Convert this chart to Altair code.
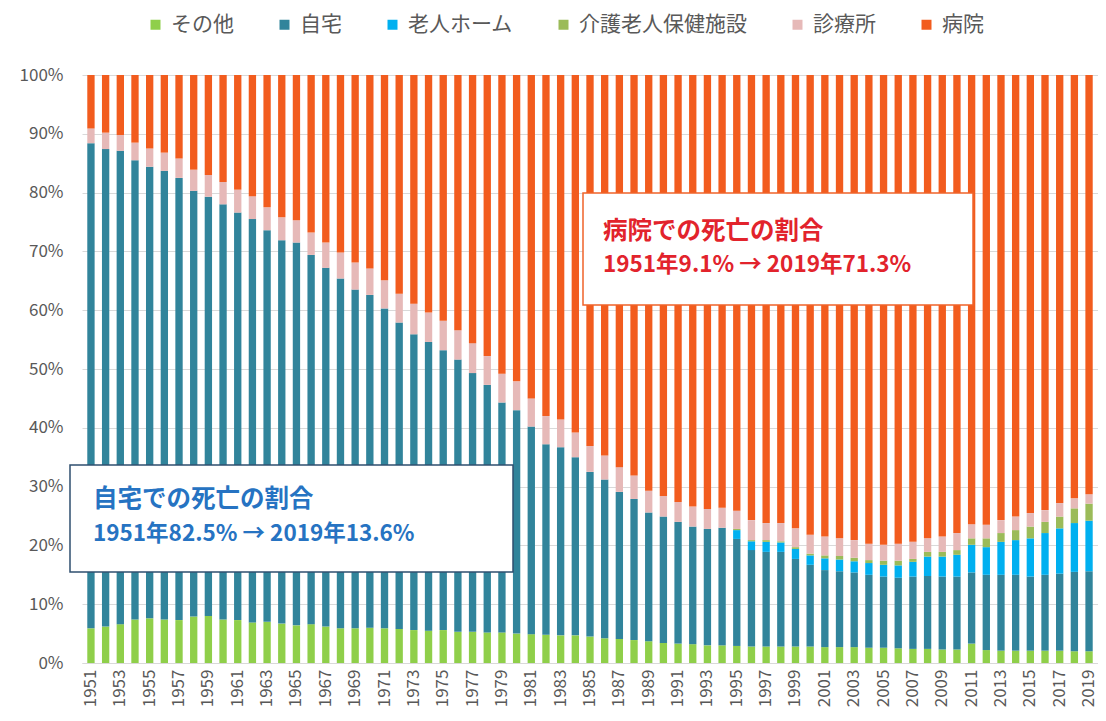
import altair as alt
import pandas as pd

years = [str(y) for y in range(1951, 2020)]
tick_years = [str(y) for y in range(1951, 2020, 2)]
y_ticks = [0, 0.1, 0.2, 0.3, 0.4, 0.5, 0.6, 0.7, 0.8, 0.9, 1.0]

categories = ["その他", "自宅", "老人ホーム", "介護老人保健施設", "診療所", "病院"]
colors = ["#8fcf4a", "#31849b", "#00b0f0", "#9bbb59", "#e6b9b8", "#f25c1e"]

other = [5.9, 6.2, 6.6, 7.4, 7.6, 7.4, 7.3, 7.9, 8.0, 7.4,
         7.3, 6.9, 7.0, 6.7, 6.4, 6.6, 6.2, 5.9, 5.9, 6.0,
         5.9, 5.8, 5.6, 5.5, 5.6, 5.3, 5.3, 5.2, 5.2, 5.0,
         4.9, 4.8, 4.7, 4.7, 4.5, 4.2, 4.1, 3.9, 3.7, 3.4,
         3.3, 3.2, 3.0, 3.0, 2.9, 2.8, 2.8, 2.8, 2.8, 2.8,
         2.7, 2.7, 2.7, 2.6, 2.6, 2.5, 2.4, 2.4, 2.3, 2.3,
         3.3, 2.2, 2.1, 2.1, 2.1, 2.1, 2.1, 2.0, 2.0]

home = [82.5, 81.2, 80.5, 78.1, 76.8, 76.3, 75.2, 72.4, 71.3, 70.6,
        69.3, 68.6, 66.6, 65.2, 65.1, 62.8, 61.0, 59.5, 57.6, 56.6,
        54.4, 52.1, 50.3, 49.1, 47.6, 46.3, 44.0, 42.1, 39.1, 38.0,
        35.3, 32.4, 32.0, 30.3, 28.0, 27.0, 25.0, 24.0, 21.9, 21.5,
        20.7, 20.0, 19.8, 20.0, 18.2, 16.4, 16.1, 16.1, 14.9, 13.9,
        13.1, 12.9, 12.7, 12.4, 12.1, 12.0, 12.3, 12.4, 12.4, 12.4,
        12.1, 12.8, 12.9, 12.9, 12.6, 12.9, 13.1, 13.5, 13.6]

nursing_home = [0, 0, 0, 0, 0, 0, 0, 0, 0, 0,
                0, 0, 0, 0, 0, 0, 0, 0, 0, 0,
                0, 0, 0, 0, 0, 0, 0, 0, 0, 0,
                0, 0, 0, 0, 0, 0, 0, 0, 0, 0,
                0, 0, 0, 0, 1.5, 1.5, 1.7, 1.6, 1.7, 1.6,
                2.0, 2.0, 1.9, 2.0, 2.0, 2.1, 2.5, 3.3, 3.4, 3.7,
                4.7, 4.7, 5.6, 5.9, 6.5, 7.1, 7.7, 8.3, 8.6]

roken = [0, 0, 0, 0, 0, 0, 0, 0, 0, 0,
         0, 0, 0, 0, 0, 0, 0, 0, 0, 0,
         0, 0, 0, 0, 0, 0, 0, 0, 0, 0,
         0, 0, 0, 0, 0, 0, 0, 0, 0, 0,
         0, 0, 0, 0, 0.2, 0.2, 0.3, 0.2, 0.3, 0.3,
         0.5, 0.6, 0.6, 0.5, 0.7, 0.8, 0.5, 0.8, 0.8, 0.8,
         1.1, 1.5, 1.5, 1.7, 2.0, 1.9, 2.0, 2.5, 2.9]

clinic = [2.5, 2.8, 2.7, 3.0, 3.1, 3.1, 3.3, 3.6, 3.7, 3.8,
          3.9, 3.9, 3.9, 3.9, 3.8, 3.8, 4.3, 4.4, 4.6, 4.5,
          4.8, 4.9, 5.2, 5.0, 5.0, 5.0, 5.1, 4.9, 4.9, 4.9,
          4.8, 4.8, 4.7, 4.2, 4.4, 4.1, 4.2, 4.0, 3.7, 3.5,
          3.4, 3.4, 3.4, 3.4, 3.1, 3.4, 2.9, 3.1, 3.2, 3.2,
          3.2, 3.0, 3.0, 2.8, 2.7, 2.9, 2.9, 2.3, 2.6, 2.9,
          2.4, 2.3, 2.2, 2.3, 2.3, 2.0, 2.3, 1.7, 1.6]

hospital = [9.1, 9.8, 10.2, 11.5, 12.5, 13.2, 14.2, 16.1, 17.0, 18.2,
            19.5, 20.6, 22.5, 24.2, 24.7, 26.8, 28.5, 30.2, 31.9, 32.9,
            34.9, 37.2, 38.9, 40.4, 41.8, 43.4, 45.6, 47.8, 50.8, 52.1,
            55.0, 58.0, 58.6, 60.8, 63.1, 64.7, 66.7, 68.1, 70.7, 71.6,
            72.6, 73.4, 73.8, 73.6, 74.1, 75.7, 76.2, 76.2, 77.1, 78.2,
            78.5, 78.8, 79.1, 79.7, 79.9, 79.7, 79.4, 78.8, 78.5, 77.9,
            76.4, 76.5, 75.7, 75.1, 74.5, 74.0, 72.8, 72.0, 71.3]

hosp_lines = ["病院での死亡の割合", "1951年9.1% → 2019年71.3%"]
home_lines = ["自宅での死亡の割合", "1951年82.5% → 2019年13.6%"]

series = [other, home, nursing_home, roken, clinic, hospital]
rows = []
for ci, (cat, vals) in enumerate(zip(categories, series)):
    for yr, v in zip(years, vals):
        rows.append({"year": yr, "cat": cat, "ord": ci, "value": v})
df = pd.DataFrame(rows)

FONT = "Noto Sans CJK JP"
GRAY = "#595959"

bars = alt.Chart(df).mark_bar().encode(
    x=alt.X("year:O", sort=years,
            scale=alt.Scale(paddingInner=0.5, paddingOuter=0.36),
            axis=alt.Axis(title=None, values=tick_years, labelAngle=-90,
                          labelFontSize=17, labelColor=GRAY, labelFont=FONT,
                          ticks=False, domainColor="#d9d9d9", labelPadding=6)),
    y=alt.Y("value:Q", stack="normalize",
            scale=alt.Scale(domain=[0, 1], nice=False),
            axis=alt.Axis(title=None, format=".0%", values=y_ticks,
                          labelFontSize=17, labelColor=GRAY, labelFont=FONT,
                          ticks=False, domain=False, labelPadding=19,
                          gridColor="#d9d9d9")),
    color=alt.Color("cat:N", scale=alt.Scale(domain=categories, range=colors),
                    legend=alt.Legend(title=None, orient="none", legendX=63, legendY=-61,
                                      direction="horizontal", symbolType="square",
                                      symbolSize=100, symbolStrokeWidth=0,
                                      labelFontSize=21, labelFont=FONT, labelColor=GRAY,
                                      labelLimit=400,
                                      labelOffset=5, columnPadding=40, padding=0)),
    order=alt.Order("ord:Q", sort="ascending"),
)

one = alt.Data(values=[{"k": 0}])

hosp_box = alt.Chart(one).mark_rect(fill="white", stroke="#f0632a", strokeWidth=1.5).encode(
    x=alt.value(501), x2=alt.value(891), y=alt.value(118), y2=alt.value(230))
hosp_t1 = alt.Chart(one).mark_text(text=hosp_lines[0], align="left", baseline="middle",
                                   font=FONT, fontSize=24.5, fontWeight="bold",
                                   color="#e2232c").encode(x=alt.value(521), y=alt.value(157))
hosp_t2 = alt.Chart(one).mark_text(text=hosp_lines[1], align="left", baseline="middle",
                                   font=FONT, fontSize=22.5, fontWeight="bold",
                                   color="#e2232c").encode(x=alt.value(521), y=alt.value(190))

home_box = alt.Chart(one).mark_rect(fill="white", stroke="#2f4f6f", strokeWidth=1.5).encode(
    x=alt.value(-12), x2=alt.value(431), y=alt.value(390), y2=alt.value(497))
home_t1 = alt.Chart(one).mark_text(text=home_lines[0], align="left", baseline="middle",
                                   font=FONT, fontSize=24.5, fontWeight="bold",
                                   color="#2673c2").encode(x=alt.value(11), y=alt.value(425))
home_t2 = alt.Chart(one).mark_text(text=home_lines[1], align="left", baseline="middle",
                                   font=FONT, fontSize=22.5, fontWeight="bold",
                                   color="#2673c2").encode(x=alt.value(11), y=alt.value(459))

chart = alt.layer(bars, hosp_box, hosp_t1, hosp_t2, home_box, home_t1, home_t2).properties(
    width=1016, height=588,
    padding={"left": 74, "top": 67, "right": 0, "bottom": 46},
    autosize=alt.AutoSizeParams(type="none"),
    background="white",
).configure_view(stroke=None)

chart.save("out.html", embed_options={"renderer": "svg", "actions": False})
